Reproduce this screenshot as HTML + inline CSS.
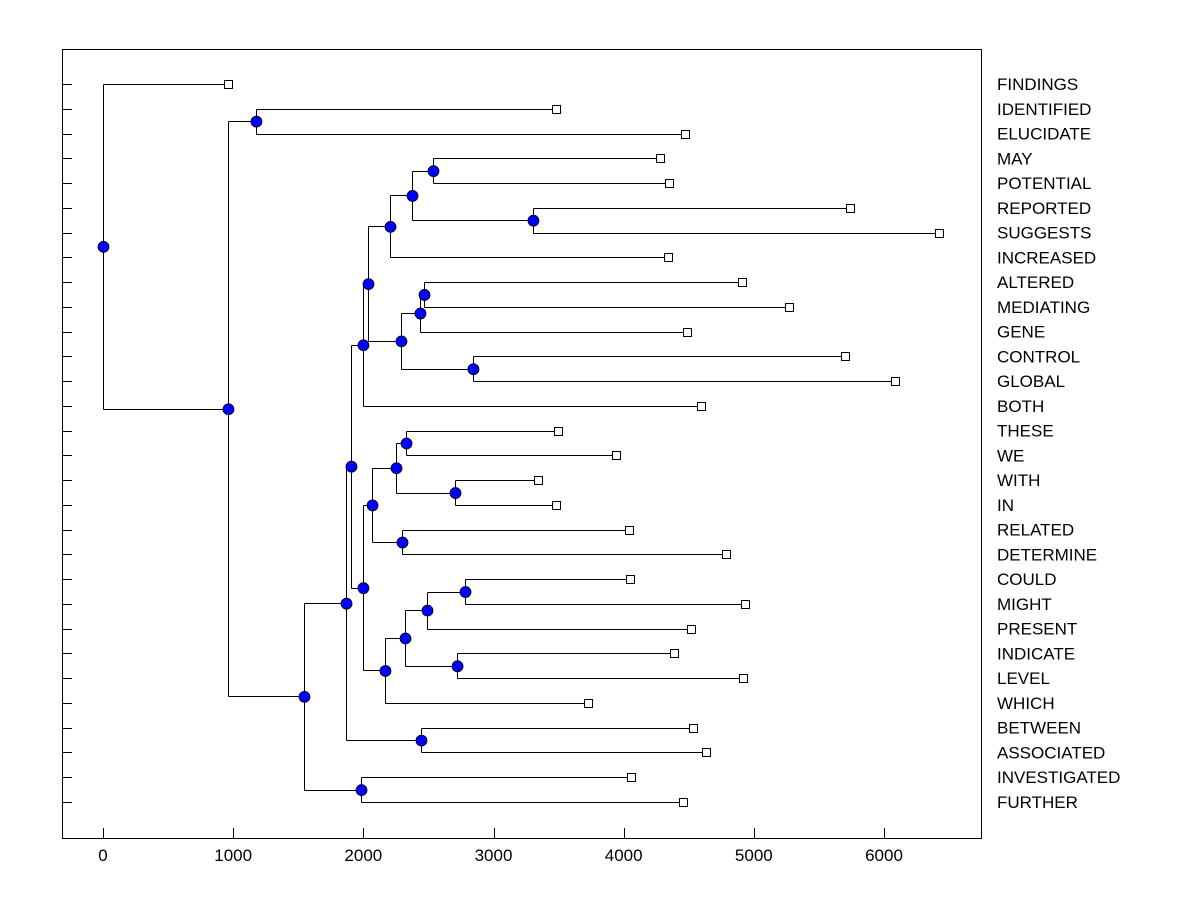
<!DOCTYPE html>
<html><head><meta charset="utf-8"><style>
body{margin:0;background:#fff}
svg{display:block}
text{font-family:"Liberation Sans",Arial,sans-serif;font-size:17px;fill:#000}
</style></head><body>
<svg id="chart" width="1200" height="900" viewBox="0 0 1200 900" xmlns="http://www.w3.org/2000/svg">
<rect x="0" y="0" width="1200" height="900" fill="#fff"/>
<rect x="62.5" y="49.5" width="919" height="789" fill="none" stroke="#000" stroke-width="1"/>
<g id="g"></g>
</svg>
<script>
const labels = ["FINDINGS","IDENTIFIED","ELUCIDATE","MAY","POTENTIAL","REPORTED","SUGGESTS","INCREASED","ALTERED","MEDIATING","GENE","CONTROL","GLOBAL","BOTH","THESE","WE","WITH","IN","RELATED","DETERMINE","COULD","MIGHT","PRESENT","INDICATE","LEVEL","WHICH","BETWEEN","ASSOCIATED","INVESTIGATED","FURTHER"];
const leafValues = [960,3480,4471,4279,4348,5739,6422,4341,4909,5270,4486,5700,6084,4594,3495,3941,3342,3480,4041,4786,4049,4932,4517,4387,4917,3726,4533,4632,4056,4456];
const xTicks = [0,1000,2000,3000,4000,5000,6000];
// tree: [height, left, right]; leaves are label indices
const tree = [0, 0,
  [960,
    [1175, 1, 2],
    [1544,
      [1867,
        [1905,
          [1997,
            [2036,
              [2205, [2374, [2535, 3, 4], [3303, 5, 6]], 7],
              [2289, [2435, [2466, 8, 9], 10], [2842, 11, 12]]
            ],
            13
          ],
          [1997,
            [2067, [2251, [2328, 14, 15], [2704, 16, 17]], [2297, 18, 19]],
            [2166, [2320, [2489, [2781, 20, 21], 22], [2720, 23, 24]], 25]
          ]
        ],
        [2443, 26, 27]
      ],
      [1982, 28, 29]
    ]
  ]
];
const g = document.getElementById('g');
const NS = 'http://www.w3.org/2000/svg';
const xs = v => 103 + v * 0.13017;
const ys = i => 84 + i * (718 / 29);
function mk(tag, attrs){const e=document.createElementNS(NS,tag);for(const k in attrs)e.setAttribute(k,attrs[k]);g.appendChild(e);return e;}
labels.forEach((l,i)=>{
  const t=mk('line',{x1:62,x2:72,y1:Math.round(ys(i))+0.5,y2:Math.round(ys(i))+0.5,stroke:'#000'});
  
  
});
xTicks.forEach(v=>{
  const t=mk('line',{x1:Math.round(xs(v))+0.5,x2:Math.round(xs(v))+0.5,y1:828,y2:838,stroke:'#000'});
  
  
  const tx=mk('text',{x:xs(v),y:861,'text-anchor':'middle'});
  tx.textContent=v;
  
  
});
const lines=[], nodes=[];
function layout(n){
  if(typeof n==='number') return {x:xs(leafValues[n]),y:ys(n),leaf:true};
  const a=layout(n[1]), b=layout(n[2]);
  const x=xs(n[0]), y=(a.y+b.y)/2;
  lines.push([x,a.y,x,b.y],[x,a.y,a.x,a.y],[x,b.y,b.x,b.y]);
  nodes.push([x,y]);
  return {x,y};
}
layout(tree);
lines.forEach(l=>{
  const e=mk('line',{x1:Math.round(l[0])+0.5,y1:Math.round(l[1])+0.5,x2:Math.round(l[2])+0.5,y2:Math.round(l[3])+0.5,stroke:'#000','stroke-width':1});
  
  
});
labels.forEach((l,i)=>{
  const r=mk('rect',{x:Math.round(xs(leafValues[i]))-4+0.5,y:Math.round(ys(i))-4+0.5,width:8,height:8,fill:'#fff',stroke:'#000'});
  
  
  const t=mk('text',{x:997,y:ys(i)+6});
  t.textContent=l;
  
  
});
nodes.forEach(n=>{
  const c=mk('circle',{cx:n[0]+0.5,cy:n[1]+0.5,r:5.5,fill:'#0000ff',stroke:'#000','stroke-width':0.8});
  
  
});
</script>
</body></html>
